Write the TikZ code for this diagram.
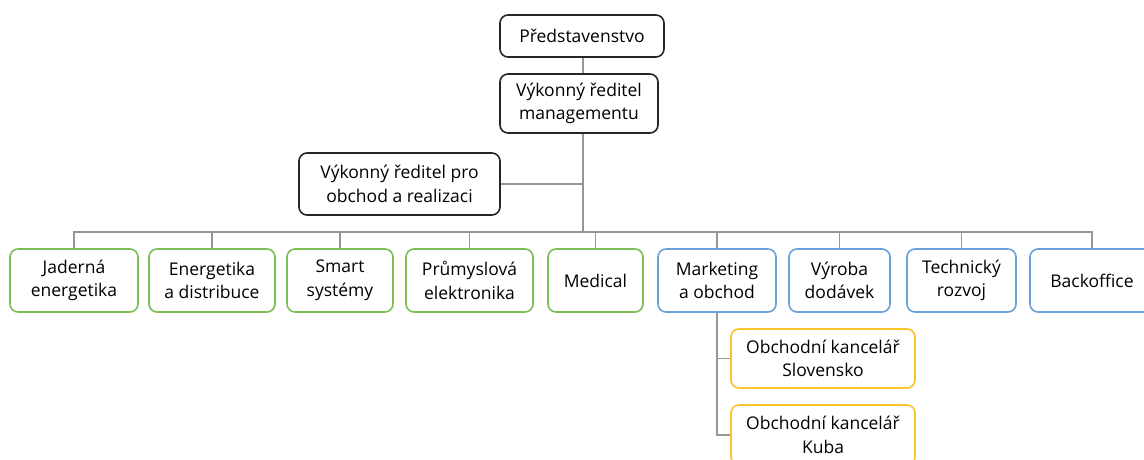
\documentclass[tikz,border=0pt]{standalone}
\usepackage{fontspec}
\setmainfont{Open Sans}
\definecolor{unitgreen}{RGB}{122,190,84}
\definecolor{unitblue}{RGB}{104,162,216}
\definecolor{unityellow}{RGB}{250,196,40}
\definecolor{linkgray}{RGB}{150,150,150}
\tikzset{
  orgbox/.style={draw=black!85, line width=1.6pt, rounded corners=8pt, fill=white,
    align=center, inner sep=0pt, font=\fontsize{17.5}{23.5}\selectfont},
  greenbox/.style={orgbox, draw=unitgreen, minimum height=63pt},
  bluebox/.style={orgbox, draw=unitblue, minimum height=63pt},
  yellowbox/.style={orgbox, draw=unityellow, minimum height=59pt},
  link/.style={draw=linkgray, line width=1.1pt}
}
\begin{document}
\begin{tikzpicture}[x=1pt,y=-1pt]
  \useasboundingbox (0,0) rectangle (1144,459);
  % top of the tree
  \node[orgbox, minimum width=164pt, minimum height=42pt] (pred) at (582,36) {Představenstvo};
  \node[orgbox, minimum width=158pt, minimum height=59pt] (vrm) at (579,103.5) {Výkonný ředitel\\managementu};
  \node[orgbox, minimum width=201pt, minimum height=62pt] (vro) at (399.5,184) {Výkonný ředitel pro\\obchod a realizaci};
  \coordinate (bus) at (583,232);
  % divisions
  \node[greenbox, minimum width=128pt] (jad) at (74,280.5) {Jaderná\\energetika};
  \node[greenbox, minimum width=126pt] (ene) at (212,280.5) {Energetika\\a distribuce};
  \node[greenbox, minimum width=106pt] (sma) at (340,280.5) {Smart\\systémy};
  \node[greenbox, minimum width=127pt] (pru) at (469.5,280.5) {Průmyslová\\elektronika};
  \node[greenbox, minimum width=95pt] (med) at (595.5,280.5) {Medical};
  \node[bluebox, minimum width=118pt] (mar) at (717,280.5) {Marketing\\a obchod};
  \node[bluebox, minimum width=101pt] (vyr) at (839.5,280.5) {Výroba\\dodávek};
  \node[bluebox, minimum width=109pt] (tec) at (961.5,280.5) {Technický\\rozvoj};
  \node[bluebox, minimum width=124pt] (bac) at (1092,280.5) {Backoffice};
  % offices
  \node[yellowbox, minimum width=184pt] (svk) at (823,358.5) {Obchodní kancelář\\Slovensko};
  \node[yellowbox, minimum width=184pt, minimum height=60pt] (kub) at (823,435) {Obchodní kancelář\\Kuba};
  % links
  \draw[link] (pred.south -| bus) -- (vrm.north -| bus);
  \draw[link] (vrm.south -| bus) -- (bus);
  \draw[link] (vro.east) -- (vro.east -| bus);
  \foreach \unit in {jad,ene,sma,pru,med,mar,vyr,tec,bac}
    \draw[link] (bus) -| (\unit.north);
  \draw[link] (mar.south) |- (svk.west);
  \draw[link] (mar.south) |- (kub.west);
\end{tikzpicture}
\end{document}
